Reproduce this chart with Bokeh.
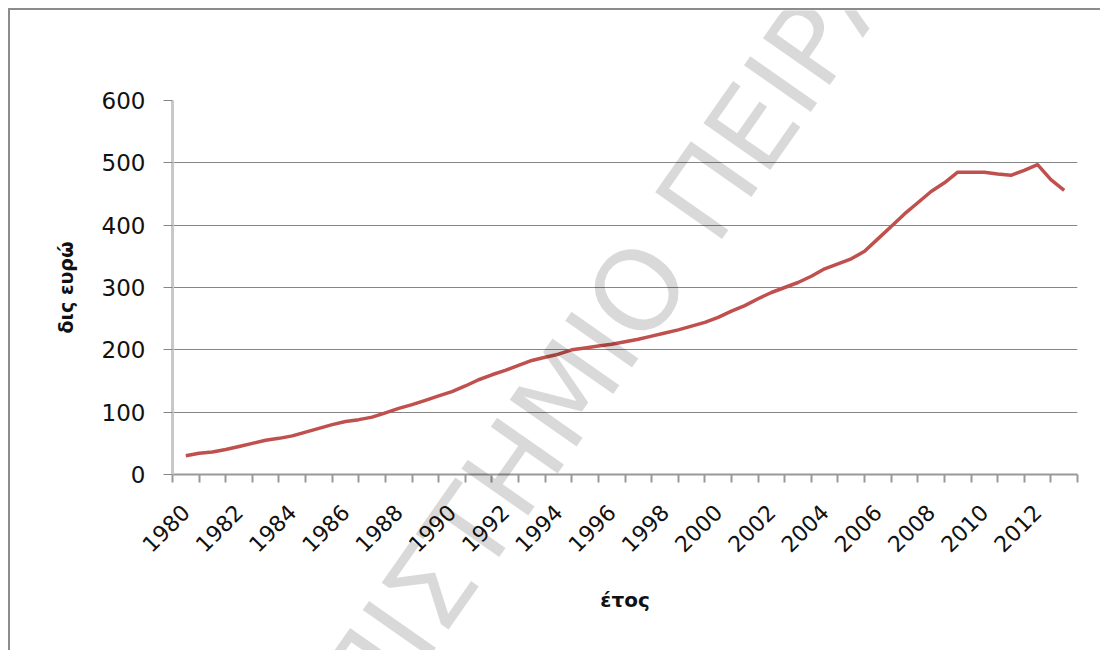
from bokeh.plotting import figure
from bokeh.models import FixedTicker, Label, Range1d, GridBox
from bokeh.embed import file_html
from bokeh.resources import INLINE

# half-yearly positions (category centre = year + 0.5)
years = [1980.5, 1981.0, 1981.5, 1982.0, 1982.5, 1983.0, 1983.5, 1984.0, 1984.5, 1985.0,
         1985.5, 1986.0, 1986.5, 1987.0, 1987.5, 1988.0, 1988.5, 1989.0, 1989.5, 1990.0,
         1990.5, 1991.0, 1991.5, 1992.0, 1992.5, 1993.0, 1993.5, 1994.0, 1994.5, 1995.0,
         1995.5, 1996.0, 1996.5, 1997.0, 1997.5, 1998.0, 1998.5, 1999.0, 1999.5, 2000.0,
         2000.5, 2001.0, 2001.5, 2002.0, 2002.5, 2003.0, 2003.5, 2004.0, 2004.5, 2005.0,
         2005.5, 2006.0, 2006.5, 2007.0, 2007.5, 2008.0, 2008.5, 2009.0, 2009.5, 2010.0,
         2010.5, 2011.0, 2011.5, 2012.0, 2012.5, 2013.0, 2013.5]
values = [30, 34, 36, 40, 45, 50, 55, 58, 62, 68,
          74, 80, 85, 88, 92, 99, 106, 112, 119, 126,
          133, 142, 152, 160, 167, 175, 183, 188, 193, 200,
          203, 206, 209, 213, 217, 222, 227, 232, 238, 244,
          252, 262, 271, 282, 292, 300, 308, 318, 330, 338,
          346, 358, 378, 398, 418, 436, 454, 468, 485, 485,
          485, 482, 480, 488, 497, 473, 456]

label_years = list(range(1980, 2013, 2))
tick_labels = [str(y) for y in label_years]
year_bounds = list(range(1980, 2015))
y_ticks = [0, 100, 200, 300, 400, 500, 600]
watermark = "ΠΑΝΕΠΙΣΤΗΜΙΟ ΠΕΙΡΑΙΩΣ"

W, H = 1090, 640

p = figure(width=W, height=H, output_backend="svg", toolbar_location=None,
           x_range=Range1d(1980, 2014), y_range=Range1d(0, 600),
           min_border_left=162, min_border_right=23, min_border_top=90, min_border_bottom=176)
p.outline_line_color = None
p.background_fill_color = "white"
p.border_fill_color = "white"

p.line(years, values, line_color="#C0504D", line_width=3.5, line_join="round")

label_pos = [y + 0.5 for y in label_years]
p.xaxis.ticker = FixedTicker(ticks=label_pos, minor_ticks=year_bounds)
p.xaxis.major_label_overrides = {pos: lab for pos, lab in zip(label_pos, tick_labels)}
p.xaxis.major_tick_line_color = None
p.xaxis.minor_tick_line_color = "#999999"
p.xaxis.minor_tick_line_width = 2
p.xaxis.minor_tick_in = 0
p.xaxis.minor_tick_out = 8
p.xaxis.axis_line_color = "#999999"
p.xaxis.axis_line_width = 2
p.xaxis.major_label_orientation = 0.785
p.xaxis.major_label_standoff = 26
p.xaxis.major_label_text_font = "DejaVu Sans"
p.xaxis.major_label_text_font_size = "22px"
p.xaxis.major_label_text_color = "#111111"
p.xaxis.axis_label = "έτος"
p.xaxis.axis_label_text_font = "DejaVu Sans"
p.xaxis.axis_label_text_font_size = "20px"
p.xaxis.axis_label_text_font_style = "bold"
p.xaxis.axis_label_text_color = "#111111"
p.xaxis.axis_label_standoff = 26

p.yaxis.ticker = FixedTicker(ticks=y_ticks)
p.yaxis.major_tick_line_color = "#868686"
p.yaxis.major_tick_in = 0
p.yaxis.major_tick_out = 9
p.yaxis.minor_tick_line_color = None
p.yaxis.axis_line_color = "#c8c8c8"
p.yaxis.axis_line_width = 3
p.yaxis.major_label_standoff = 18
p.yaxis.major_label_text_font = "DejaVu Sans"
p.yaxis.major_label_text_font_size = "23px"
p.yaxis.major_label_text_color = "#111111"
p.yaxis.axis_label = "δις ευρώ"
p.yaxis.axis_label_text_font = "DejaVu Sans"
p.yaxis.axis_label_text_font_size = "19px"
p.yaxis.axis_label_text_font_style = "bold"
p.yaxis.axis_label_text_color = "#111111"
p.yaxis.axis_label_standoff = 22

p.xgrid.visible = False
p.ygrid.grid_line_color = "#868686"
p.ygrid.grid_line_width = 1

# transparent overlay figure carrying the diagonal watermark
p2 = figure(width=W, height=H, output_backend="svg", toolbar_location=None,
            x_range=Range1d(0, W), y_range=Range1d(0, H), min_border=0)
p2.axis.visible = False
p2.grid.visible = False
p2.outline_line_color = None
p2.background_fill_alpha = 0
p2.border_fill_alpha = 0
wm = Label(x=562, y=266, text=watermark, angle=0.96,
           text_align="center", text_baseline="middle", text_font="DejaVu Sans",
           text_font_size="112px", text_color="black", text_alpha=0.15)
p2.add_layout(wm)

for fig in (p, p2):
    if "frame_align" in fig.properties():
        fig.frame_align = False

layout = GridBox(children=[(p, 0, 0), (p2, 0, 0)])
layout.styles = {"border-left": "2px solid #8c8c8c", "border-top": "2px solid #8c8c8c",
                 "margin-left": "8px", "margin-top": "8px"}

open("out.html", "w").write(file_html(layout, INLINE))
